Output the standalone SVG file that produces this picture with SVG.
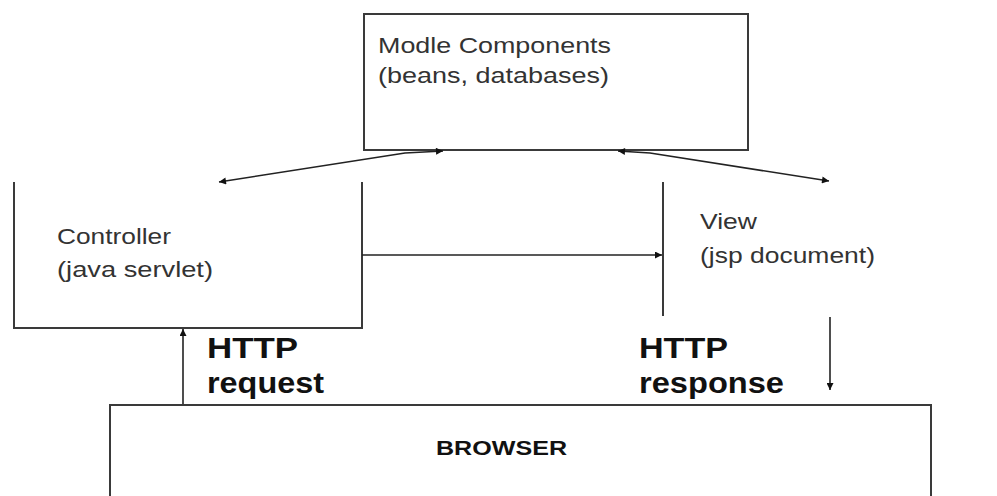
<svg xmlns="http://www.w3.org/2000/svg" width="997" height="496" viewBox="0 0 997 496">
  <style>
    .box { fill: none; stroke: #3a3a3a; stroke-width: 2; }
    .edge { fill: none; stroke: #222; stroke-width: 1.6; }
    .lbl { font-family: "Liberation Sans", Arial, sans-serif; font-size: 22px; fill: #333; }
    .big { font-family: "Liberation Sans", Arial, sans-serif; font-size: 29px; font-weight: bold; fill: #111; }
    .brw { font-family: "Liberation Sans", Arial, sans-serif; font-size: 21px; font-weight: bold; fill: #111; }
  </style>
  <defs>
    <marker id="ah" viewBox="0 0 10 10" refX="10" refY="5" markerWidth="9" markerHeight="7" markerUnits="userSpaceOnUse" orient="auto-start-reverse">
      <path d="M0,0 L10,5 L0,10 z" fill="#111"/>
    </marker>
  </defs>
  <rect width="997" height="496" fill="#ffffff"/>

  <g id="model">
    <rect class="box" x="364" y="14" width="384" height="136"/>
    <text class="lbl" x="378" y="53" textLength="233" lengthAdjust="spacingAndGlyphs">Modle Components</text>
    <text class="lbl" x="378" y="83" textLength="231" lengthAdjust="spacingAndGlyphs">(beans, databases)</text>
  </g>

  <g id="controller">
    <path class="box" d="M14,182 V328 H362 V182"/>
    <text class="lbl" x="57" y="244" textLength="114" lengthAdjust="spacingAndGlyphs">Controller</text>
    <text class="lbl" x="57" y="277" textLength="156" lengthAdjust="spacingAndGlyphs">(java servlet)</text>
  </g>

  <g id="view">
    <path class="box" d="M663,182 V316"/>
    <text class="lbl" x="700" y="229" textLength="57" lengthAdjust="spacingAndGlyphs">View</text>
    <text class="lbl" x="700" y="263" textLength="175" lengthAdjust="spacingAndGlyphs">(jsp document)</text>
  </g>

  <g id="browser">
    <path class="box" d="M110,496 V405 H931 V496"/>
    <text class="brw" x="436" y="455" textLength="131" lengthAdjust="spacingAndGlyphs">BROWSER</text>
  </g>

  <g id="http-request">
    <text class="big" x="207" y="358" textLength="91" lengthAdjust="spacingAndGlyphs">HTTP</text>
    <text class="big" x="207" y="393" textLength="117" lengthAdjust="spacingAndGlyphs">request</text>
  </g>

  <g id="http-response">
    <text class="big" x="639" y="358" textLength="89" lengthAdjust="spacingAndGlyphs">HTTP</text>
    <text class="big" x="639" y="393" textLength="145" lengthAdjust="spacingAndGlyphs">response</text>
  </g>

  <g id="connectors">
    <path class="edge" d="M219,182 L405,153 L443,151" marker-start="url(#ah)" marker-end="url(#ah)"/>
    <path class="edge" d="M618,151 L650,153 L829,181" marker-start="url(#ah)" marker-end="url(#ah)"/>
    <path class="edge" d="M362,255 H662" marker-end="url(#ah)"/>
    <path class="edge" d="M183,404 V329" marker-end="url(#ah)"/>
    <path class="edge" d="M830,317 V390" marker-end="url(#ah)"/>
  </g>
</svg>
